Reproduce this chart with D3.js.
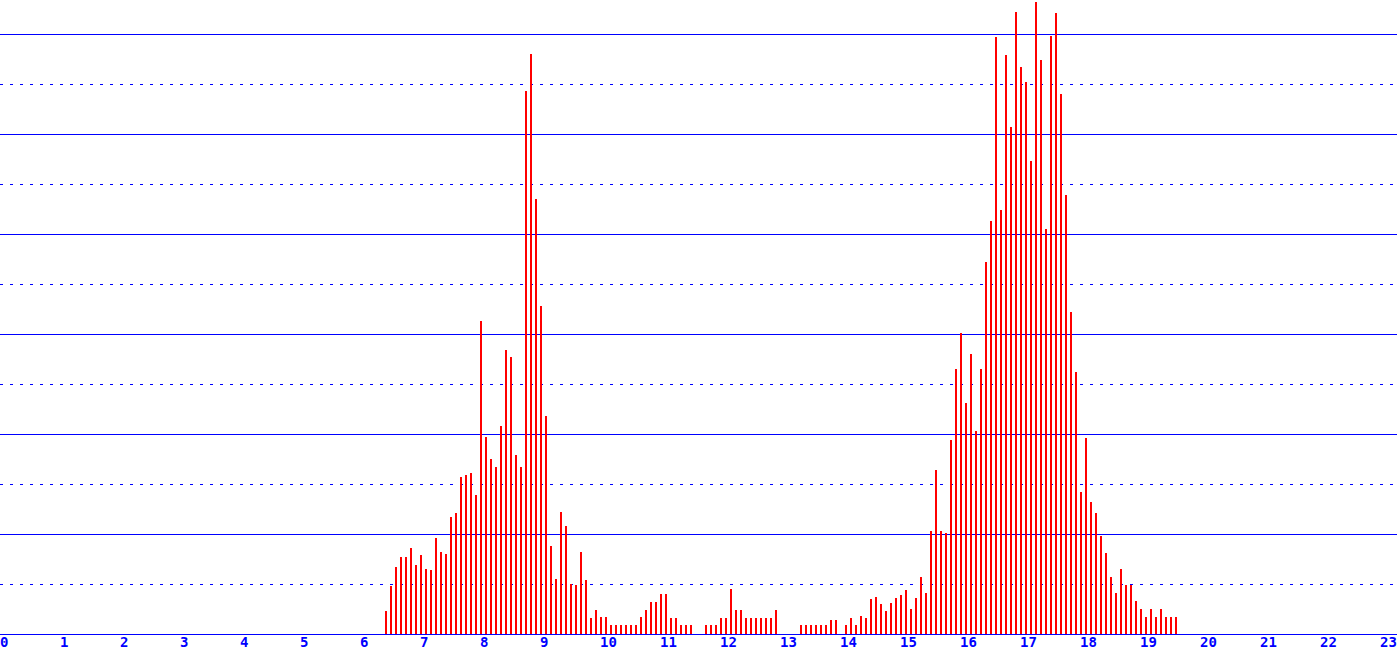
<!DOCTYPE html>
<html>
<head>
<meta charset="utf-8">
<script src="https://cdn.jsdelivr.net/npm/d3@7"></script>
<style>
  html, body { margin: 0; padding: 0; background: #fff; overflow: hidden; }
  svg { display: block; }
</style>
</head>
<body>
<div id="chart"></div>
<script>
// datos: una barra cada 5 minutos
const times = [
  "06:20","06:25","06:30","06:35","06:40","06:45","06:50","06:55",
  "07:00","07:05","07:10","07:15","07:20","07:25","07:30","07:35","07:40","07:45","07:50","07:55",
  "08:00","08:05","08:10","08:15","08:20","08:25","08:30","08:35","08:40","08:45","08:50","08:55",
  "09:00","09:05","09:10","09:15","09:20","09:25","09:30","09:35","09:40","09:45","09:50","09:55",
  "10:00","10:05","10:10","10:15","10:20","10:25","10:30","10:35","10:40","10:45","10:50","10:55",
  "11:00","11:05","11:10","11:15","11:20","11:25","11:30","11:35","11:40","11:45","11:50","11:55",
  "12:00","12:05","12:10","12:15","12:20","12:25","12:30","12:35","12:40","12:45","12:50","12:55",
  "13:00","13:05","13:10","13:15","13:20","13:25","13:30","13:35","13:40","13:45","13:50","13:55",
  "14:00","14:05","14:10","14:15","14:20","14:25","14:30","14:35","14:40","14:45","14:50","14:55",
  "15:00","15:05","15:10","15:15","15:20","15:25","15:30","15:35","15:40","15:45","15:50","15:55",
  "16:00","16:05","16:10","16:15","16:20","16:25","16:30","16:35","16:40","16:45","16:50","16:55",
  "17:00","17:05","17:10","17:15","17:20","17:25","17:30","17:35","17:40","17:45","17:50","17:55",
  "18:00","18:05","18:10","18:15","18:20","18:25","18:30","18:35","18:40","18:45","18:50","18:55",
  "19:00","19:05","19:10","19:15","19:20","19:25","19:30"
]
const values = [
  4.7, 9.7, 13.5, 15.5, 15.5, 17.3, 13.9, 15.9,
  13.1, 12.9, 19.3, 16.5, 16.1, 23.5, 24.3, 31.5, 31.9, 32.3, 27.9, 62.7,
  39.5, 35.1, 33.5, 41.7, 56.9, 55.5, 35.9, 33.5, 108.6, 116, 87, 65.6,
  43.6, 17.6, 11, 24.4, 21.6, 10, 9.8, 16.4, 10.8, 3.3, 4.9, 3.5,
  3.5, 1.9, 1.9, 1.9, 1.9, 1.9, 1.9, 3.5, 4.9, 6.5, 6.5, 8.1,
  8.1, 3.3, 3.3, 1.9, 1.9, 1.9, 0, 0, 1.9, 1.9, 1.9, 3.3,
  3.3, 9.1, 4.9, 4.9, 3.3, 3.3, 3.3, 3.3, 3.3, 3.3, 4.9, 0,
  0, 0, 0, 1.8, 1.8, 1.8, 1.8, 1.8, 1.8, 2.9, 2.9, 0,
  1.9, 3.3, 1.8, 3.7, 3.3, 7.1, 7.5, 6.1, 4.7, 6.3, 7.3, 7.9,
  8.9, 5.1, 7.3, 11.5, 8.3, 20.7, 32.9, 20.7, 20.3, 38.9, 53, 60.2,
  46.2, 56, 40.6, 53, 74.4, 82.6, 119.4, 84.8, 115.8, 101.4, 124.4, 113.4,
  110.4, 94.6, 126.4, 114.8, 81, 119.6, 124.2, 108, 87.9, 64.4, 52.4, 28.4,
  39.2, 26.4, 24.2, 19.6, 16.2, 11.4, 8.2, 13, 9.8, 9.8, 6.6, 5,
  3.4, 5, 3.4, 5, 3.4, 3.4, 3.4
]
const hourTicks = [0,1,2,3,4,5,6,7,8,9,10,11,12,13,14,15,16,17,18,19,20,21,22,23]
const solidGrid = [20, 40, 60, 80, 100, 120]
const dottedGrid = [10, 30, 50, 70, 90, 110]

// constantes
const width = 1397
const height = 654
const baseY = 634
const slot = 5 / 60

const svg = d3.select("div#chart")
  .append("svg")
  .attr("width", width)
  .attr("height", height)

// escalas
const x = d3.scaleLinear().domain([0, 24]).range([0, 1440])
const y = d3.scaleLinear().domain([0, 126.8]).range([baseY, 0])

const toHours = t => {
  const p = t.split(":")
  return +p[0] + +p[1] / 60
}

// rejilla
const gridGroup = svg.append("g").attr("class", "grid")
gridGroup.selectAll("line.solid")
  .data(solidGrid)
  .enter()
  .append("line")
  .attr("class", "solid")
  .attr("x1", 0)
  .attr("x2", width)
  .attr("y1", d => Math.round(y(d)) + 0.5)
  .attr("y2", d => Math.round(y(d)) + 0.5)
  .attr("stroke", "#0000ff")
  .attr("stroke-width", 1)
  .attr("shape-rendering", "crispEdges")
gridGroup.selectAll("line.dotted")
  .data(dottedGrid)
  .enter()
  .append("line")
  .attr("class", "dotted")
  .attr("x1", 0)
  .attr("x2", width)
  .attr("y1", d => Math.round(y(d)) + 0.5)
  .attr("y2", d => Math.round(y(d)) + 0.5)
  .attr("stroke", "#0000ff")
  .attr("stroke-width", 1)
  .attr("stroke-dasharray", "3,7")
  .attr("shape-rendering", "crispEdges")

// barras
const data = times.map((t, i) => ({ t: toHours(t), v: values[i] }))
svg.append("g")
  .attr("class", "bars")
  .selectAll("rect")
  .data(data.filter(d => d.v > 0))
  .enter()
  .append("rect")
  .attr("x", d => x(d.t + slot))
  .attr("y", d => y(d.v))
  .attr("width", 2)
  .attr("height", d => y(0) - y(d.v))
  .attr("fill", "#ff0000")
  .attr("shape-rendering", "crispEdges")

// eje
const xAxis = d3.axisBottom(x)
  .tickValues(hourTicks)
  .tickFormat(d3.format("d"))
  .tickSize(0)
  .tickPadding(3)
const xAxisGroup = svg.append("g")
  .attr("class", "xAxis")
  .attr("transform", `translate(0,${baseY})`)
  .call(xAxis)
xAxisGroup.select(".domain")
  .attr("stroke", "#0000ff")
  .attr("d", `M0,0.5H${width}`)
  .attr("shape-rendering", "crispEdges")
xAxisGroup.selectAll("text")
  .attr("text-anchor", "start")
  .attr("x", -0.5)
  .attr("fill", "#0000ff")
  .style("font-family", "'DejaVu Sans Mono', monospace")
  .style("font-weight", "bold")
  .style("font-size", "14px")
</script>
</body>
</html>
